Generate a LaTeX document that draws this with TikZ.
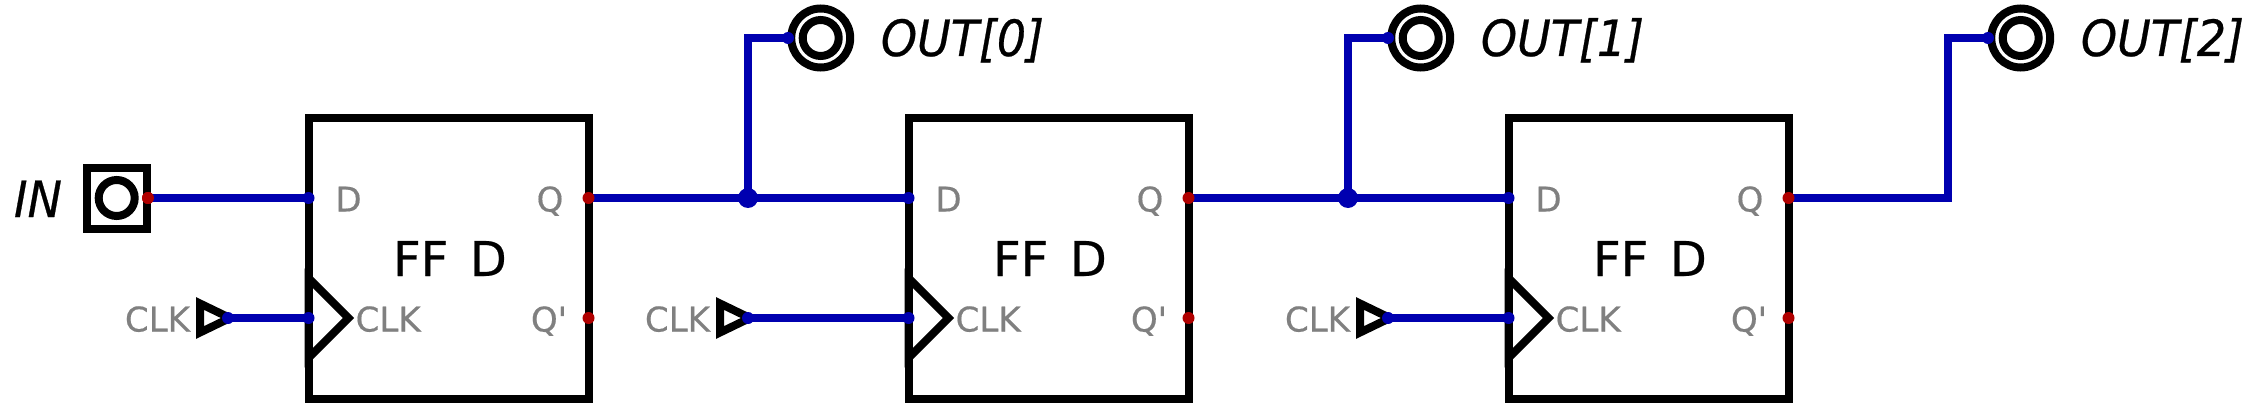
\documentclass[tikz,border=0pt]{standalone}
\usepackage{fontspec}
\setmainfont{DejaVu Sans}
\newfontfamily\plainfont[FakeBold=0.5]{DejaVu Sans}
\newfontfamily\iofont[FakeStretch=0.92,FakeBold=0.5]{DejaVu Sans Oblique}
\definecolor{wireblue}{HTML}{0000B0}
\definecolor{pinred}{HTML}{B00000}
\definecolor{labelgray}{HTML}{808080}
\newcommand{\fs}[1]{\fontsize{#1}{#1}\selectfont}
\tikzset{
  x=1pt,y=-1pt,
  part/.style={draw=black,line width=8pt,miter limit=10},
  wire/.style={draw=wireblue,line width=8pt},
  bluedot/.style={circle,fill=wireblue,inner sep=0pt,minimum size=12pt},
  reddot/.style={circle,fill=pinred,inner sep=0pt,minimum size=12pt},
  junction/.style={circle,fill=wireblue,inner sep=0pt,minimum size=20pt},
  pinlabel/.style={text=labelgray,font=\fs{34}\plainfont,inner sep=0pt,anchor=base},
  partlabel/.style={text=black,font=\fs{48}\plainfont,inner sep=0pt,anchor=base},
  iolabel/.style={text=black,font=\fs{50}\iofont,inner sep=0pt,anchor=base},
}
\begin{document}
\begin{tikzpicture}
\useasboundingbox (0,0) rectangle (2250,406);
% input
\draw[part] (87,168.5) rectangle (147,228.5);
\draw[part] (116.7,198) circle[radius=18];
\node[iolabel] (inlabel) at (38,217) {IN};
\node[reddot] (inpin) at (148,198) {};
% flip-flops and clocks
\foreach \n/\fx/\cx/\lx in {1/308.5/228/157.5,2/908.5/748/677.5,3/1508.5/1388/1317.5}{
  \draw[part] (\fx,118.5) rectangle +(280,280);
  \draw[part] (\fx,278) -- +(40,40) -- +(0,80) -- cycle;
  \node[pinlabel] (d\n) at (\fx+40,211.5) {D};
  \node[pinlabel,anchor=base west] (clkin\n) at (\fx+47,331.5) {CLK};
  \node[pinlabel] (q\n) at (\fx+241.5,211.5) {Q};
  \node[pinlabel] (qb\n) at (\fx+240.5,331.5) {Q'};
  \node[partlabel] (ff\n) at (\fx+141.5,276) {FF\hspace{0.45em}D};
  \coordinate (dp\n) at (\fx,198);
  \coordinate (cp\n) at (\fx,318);
  \coordinate (qp\n) at (\fx+280,198);
  \node[reddot] (qbp\n) at (\fx+280,318) {};
  \draw[part] (\cx-28,303.5) -- (\cx+2,318) -- (\cx-28,332.5) -- cycle;
  \coordinate (clksrc\n) at (\cx,318);
  \node[pinlabel] (clkl\n) at (\lx,331.5) {CLK};
  \draw[wire] (clksrc\n) -- (cp\n);
  \node[bluedot] at (clksrc\n) {};
  \node[bluedot] at (cp\n) {};
}
% outputs
\foreach \n/\cx in {0/820.7,1/1420.7,2/2020.7}{
  \draw[part] (\cx,38) circle[radius=29.5];
  \draw[part] (\cx,38) circle[radius=18];
  \node[iolabel,anchor=base west] (out\n) at (\cx+60,56) {OUT[\n]};
  \coordinate (op\n) at (\cx-32.7,38);
}
% wires
\node[junction] (j1) at (748,198) {};
\node[junction] (j2) at (1348,198) {};
\draw[wire] (inpin.center) -- (dp1);
\draw[wire] (qp1) -- (dp2);
\draw[wire] (qp2) -- (dp3);
\draw[wire] (j1.center) -- (748,38) -- (op0);
\draw[wire] (j2.center) -- (1348,38) -- (op1);
\draw[wire,miter limit=10] (qp3) -- (1948,198) -- (1948,38) -- (op2);
\node[reddot] at (inpin) {};
\foreach \n in {1,2,3}{\node[bluedot] at (dp\n) {};\node[reddot] at (qp\n) {};}
\foreach \n in {0,1,2}{\node[bluedot] at (op\n) {};}
\end{tikzpicture}
\end{document}
